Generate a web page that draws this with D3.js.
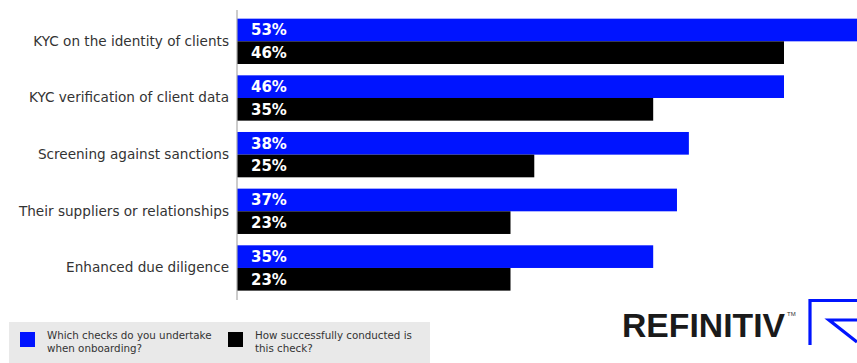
<!DOCTYPE html>
<html>
<head>
<meta charset="utf-8">
<script src="https://cdn.jsdelivr.net/npm/d3@7"></script>
<style>
html,body{margin:0;padding:0;background:#fff;overflow:hidden;}
svg{display:block;}
</style>
</head>
<body>
<svg id="chart" width="857" height="363"></svg>
<script>
const categories = [
  "KYC on the identity of clients",
  "KYC verification of client data",
  "Screening against sanctions",
  "Their suppliers or relationships",
  "Enhanced due diligence"
];
const undertakeValues = [53, 46, 38, 37, 35];
const successValues = [46, 35, 25, 23, 23];
const seriesNames = ["Which checks do you undertake|when onboarding?", "How successfully conducted is|this check?"];
const seriesColors = ["#0014ff", "#000000"];

const svg = d3.select("#chart");
const W = 857, H = 363;

const x = d3.scaleLinear().domain([0, 46]).range([237, 784]);
const y = d3.scaleBand().domain(categories).range([13, 296.3]).paddingInner(0.2).paddingOuter(0.1);
const sub = d3.scaleBand().domain([0, 1]).range([0, y.bandwidth()]);

svg.append("defs").append("clipPath").attr("id", "clip")
  .append("rect").attr("x", 0).attr("y", 0).attr("width", W).attr("height", H);

const data = [];
categories.forEach((c, i) => {
  data.push({cat: c, s: 0, v: undertakeValues[i]});
  data.push({cat: c, s: 1, v: successValues[i]});
});

const g = svg.append("g").attr("clip-path", "url(#clip)");
g.selectAll("rect.bar").data(data).join("rect")
  .attr("class", "bar")
  .attr("x", x(0))
  .attr("y", d => y(d.cat) + sub(d.s))
  .attr("width", d => x(d.v) - x(0))
  .attr("height", sub.bandwidth())
  .attr("fill", d => seriesColors[d.s]);

g.selectAll("text.val").data(data).join("text")
  .attr("class", "val")
  .attr("x", x(0) + 14)
  .attr("y", d => y(d.cat) + sub(d.s) + sub.bandwidth() / 2)
  .attr("dy", "0.36em")
  .attr("fill", "#fff")
  .attr("font-family", "DejaVu Sans, sans-serif")
  .attr("font-weight", "bold")
  .attr("font-size", "15px")
  .text(d => d.v + "%");

// axis line
const axis = d3.axisLeft(y).tickSize(0).tickPadding(8);
const ag = svg.append("g").attr("transform", `translate(${x(0)},0)`).call(axis);
ag.select(".domain").attr("stroke", "#aaa").attr("stroke-width", 1.2).attr("d", "M0,10V300");
ag.selectAll(".tick text")
  .attr("font-family", "DejaVu Sans, sans-serif")
  .attr("font-size", "13.6px")
  .attr("fill", "#333");

// legend
const lg = svg.append("g");
lg.append("rect").attr("x", 9).attr("y", 322).attr("width", 421).attr("height", 41).attr("fill", "#e9e9e9");
const legX = [20, 228];
seriesNames.forEach((n, i) => {
  lg.append("rect").attr("x", legX[i]).attr("y", 332).attr("width", 15).attr("height", 15).attr("fill", seriesColors[i]);
  const t = lg.append("text").attr("x", legX[i] + 27).attr("y", 339)
    .attr("font-family", "DejaVu Sans, sans-serif").attr("font-size", "10.3px").attr("fill", "#333");
  n.split("|").forEach((line, j) => {
    t.append("tspan").attr("x", legX[i] + 27).attr("dy", j === 0 ? 0 : 13).text(line);
  });
});

// brand
svg.append("text").attr("x", 622).attr("y", 336.5)
  .attr("font-family", "Liberation Sans, Arial, sans-serif").attr("font-weight", "bold")
  .attr("font-size", "33px").attr("fill", "#1a1a1a")
  .attr("textLength", 163).attr("lengthAdjust", "spacingAndGlyphs")
  .text("REFINITIV");
svg.append("text").attr("x", 787).attr("y", 316)
  .attr("font-family", "Liberation Sans, Arial, sans-serif").attr("font-size", "6px").attr("fill", "#333").text("TM");
const mark = svg.append("g").attr("fill", "none").attr("stroke", "#0014ff").attr("stroke-width", 3.2);
mark.append("path").attr("d", "M810,345V300.5H857");
mark.append("path").attr("d", "M857,320H829L857,342");
</script>
</body>
</html>
